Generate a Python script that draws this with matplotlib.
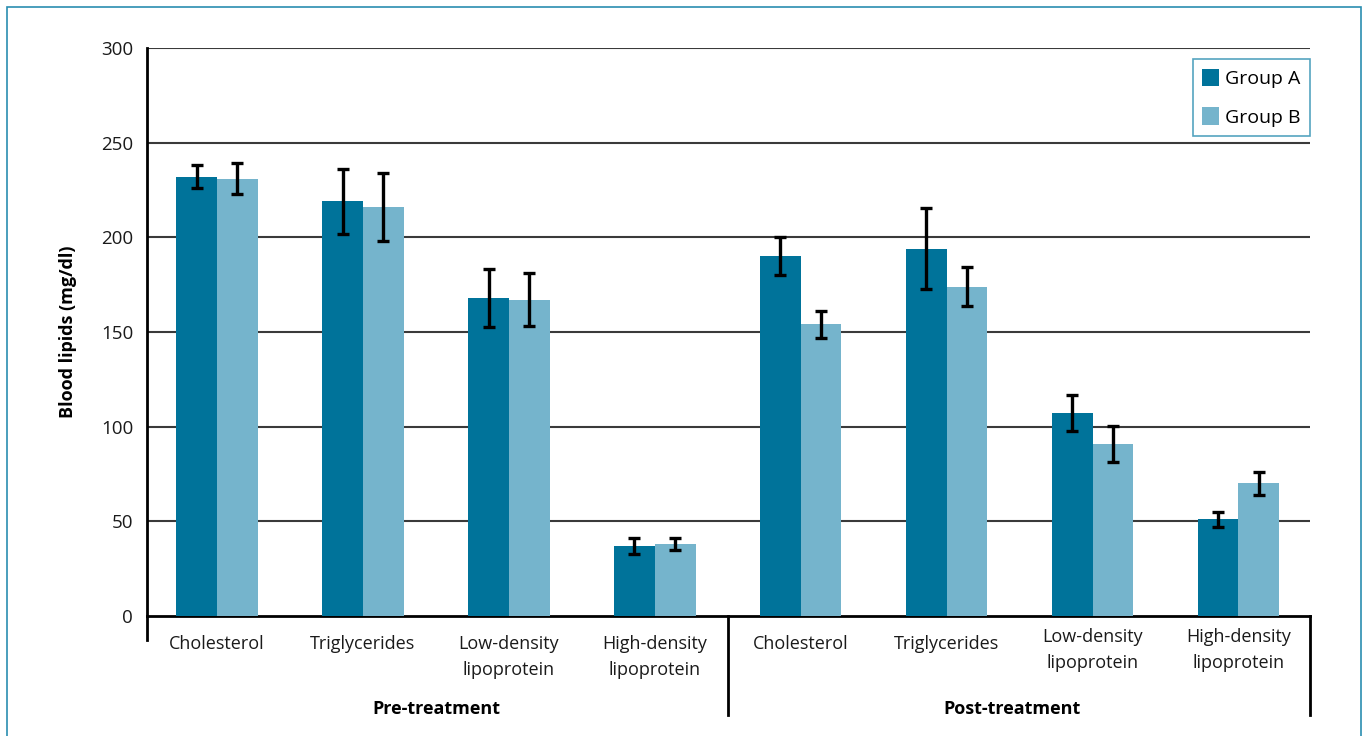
import matplotlib
matplotlib.use("Agg")
import matplotlib.pyplot as plt
from matplotlib.patches import Rectangle
import numpy as np

# Mean blood lipids (mg/dl) and error bar half-widths, pre then post treatment
categories = ["Cholesterol", "Triglycerides", "Low-density\nlipoprotein", "High-density\nlipoprotein"]
phases = ["Pre-treatment", "Post-treatment"]

group_a = [232, 219, 168, 37, 190, 194, 107, 51]
group_a_err = [6, 17, 15.5, 4, 10, 21.5, 9.5, 4]
group_b = [231, 216, 167, 38, 154, 174, 91, 70]
group_b_err = [8, 18, 14, 3, 7, 10.5, 9.5, 6]

COLOR_A = "#00739a"
COLOR_B = "#75b4cc"
FRAME = "#2a8db0"

plt.rcParams["font.family"] = ["Open Sans", "DejaVu Sans"]

fig = plt.figure(figsize=(13.66, 7.36), dpi=100)
ax = fig.add_axes([0.1076, 0.163, 0.8514, 0.7718])

x = np.arange(len(group_a))
w = 0.279
err_kw = dict(ecolor="black", elinewidth=2.4, capsize=4.5, capthick=2.4)
ax.bar(x - w / 2, group_a, w, yerr=group_a_err, color=COLOR_A, label="Group A",
       error_kw=err_kw, zorder=3)
ax.bar(x + w / 2, group_b, w, yerr=group_b_err, color=COLOR_B, label="Group B",
       error_kw=err_kw, zorder=3)

ax.set_xlim(-0.48, 7.49)
ax.set_ylim(0, 300)
ax.set_yticks(range(0, 301, 50))
for yv in range(50, 301, 50):
    ax.axhline(yv, color="#3a3a3a", lw=1.5, zorder=1)

for side in ["top", "right"]:
    ax.spines[side].set_visible(False)
ax.spines["left"].set_linewidth(2)
ax.spines["bottom"].set_linewidth(2)
ax.tick_params(axis="y", length=0, pad=10, labelsize=13.5, colors="#1a1a1a")
ax.tick_params(axis="x", length=0, labelbottom=False)

ax.set_ylabel("Blood lipids (mg/dl)", fontsize=13, fontweight="bold", labelpad=17)

# category labels under each pair of bars
trans = ax.get_xaxis_transform()
for i in range(len(group_a)):
    label = categories[i % 4]
    y0 = -0.033
    if i >= 4 and "\n" in label:
        y0 = -0.021
    ax.text(i, y0, label, transform=trans, ha="center", va="top",
            fontsize=13, linespacing=1.6, color="#1a1a1a")

# phase labels and divider lines
ax.text(1.5, -0.163, phases[0], transform=trans, ha="center", va="center",
        fontsize=13, fontweight="bold")
ax.text(5.45, -0.163, phases[1], transform=trans, ha="center", va="center",
        fontsize=13, fontweight="bold")
ax.plot([-0.48, -0.48], [0, -0.043], transform=trans, color="black", lw=2, clip_on=False)
ax.plot([3.5, 3.5], [0, -0.175], transform=trans, color="black", lw=2, clip_on=False)
ax.plot([7.49, 7.49], [0, -0.175], transform=trans, color="black", lw=2, clip_on=False)

leg = ax.legend(loc="upper right", bbox_to_anchor=(1.0, 0.981), fontsize=14,
                frameon=True, fancybox=False, handlelength=0.85, handleheight=1.0,
                handletextpad=0.3, labelspacing=1.0, borderpad=0.5, borderaxespad=0)
leg.get_frame().set_edgecolor(FRAME)
leg.get_frame().set_linewidth(1.2)

# outer frame around the figure
fig.patches.append(Rectangle((7 / 1366, -0.05), 1354 / 1366, 1.05 - 7 / 736,
                             transform=fig.transFigure, fill=False,
                             edgecolor=FRAME, lw=1.2))

fig.savefig("out.png", dpi=100)
